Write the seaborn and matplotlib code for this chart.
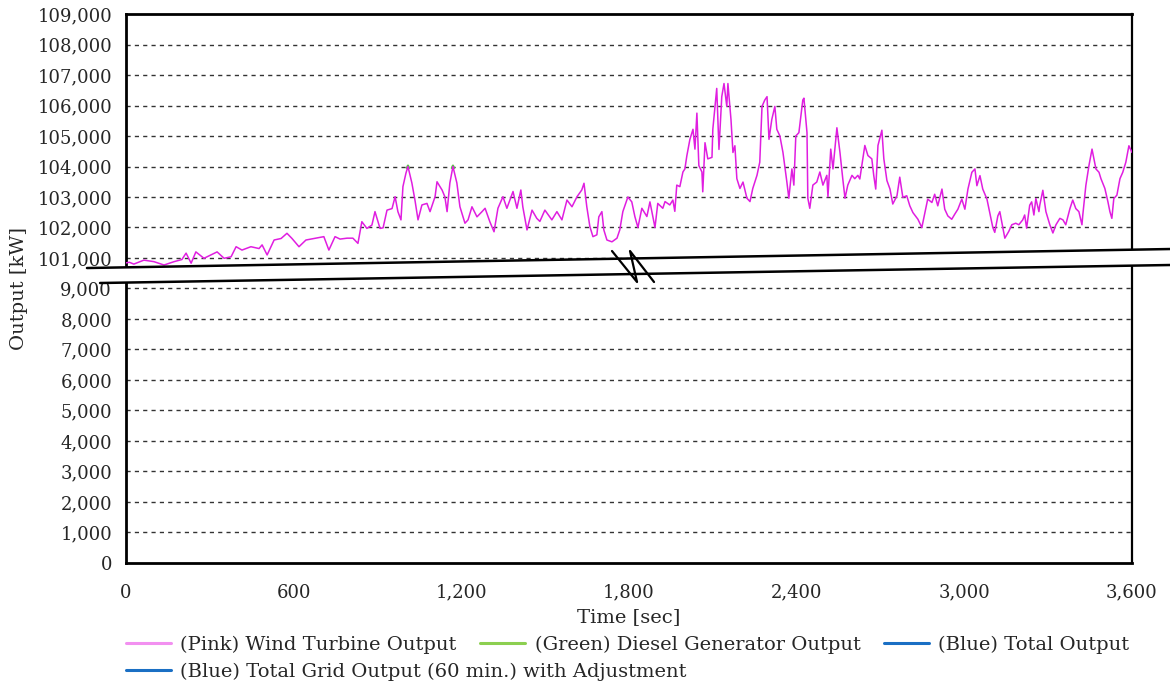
import numpy as np
import pandas as pd
import matplotlib
matplotlib.use("Agg")
import matplotlib.pyplot as plt
from matplotlib.lines import Line2D
from matplotlib.patches import Polygon
import seaborn as sns

# ---- data -------------------------------------------------------------
time_sec = [0, 12, 28, 64, 100, 136, 172, 200, 215, 233, 250, 279, 304, 326, 351, 376, 394, 415, 447, 476,
            487, 505, 530, 555, 576, 594, 619, 644, 673, 708, 726, 737, 748, 766, 791, 812, 830, 844, 862, 880,
            891, 909, 920, 934, 952, 963, 973, 984, 991, 1002, 1009, 1023, 1034, 1045, 1059, 1077, 1088, 1106,
            1113, 1131, 1141, 1149, 1159, 1170, 1184, 1195, 1213, 1224, 1238, 1256, 1274, 1285, 1302, 1317,
            1331, 1349, 1363, 1374, 1385, 1399, 1413, 1420, 1435, 1453, 1470, 1481, 1499, 1524, 1542, 1560,
            1578, 1596, 1614, 1631, 1639, 1649, 1660, 1671, 1685, 1692, 1703, 1710, 1721, 1739, 1757, 1767,
            1778, 1796, 1810, 1821, 1832, 1846, 1864, 1875, 1893, 1903, 1921, 1929, 1946, 1957, 1964, 1971,
            1982, 1993, 2000, 2007, 2018, 2029, 2036, 2043, 2050, 2061, 2064, 2072, 2082, 2097, 2100, 2114,
            2122, 2132, 2140, 2150, 2154, 2165, 2172, 2179, 2186, 2197, 2208, 2222, 2233, 2243, 2258, 2268,
            2276, 2286, 2294, 2301, 2311, 2322, 2329, 2340, 2351, 2365, 2372, 2383, 2390, 2397, 2408, 2422,
            2426, 2437, 2440, 2447, 2458, 2472, 2483, 2494, 2508, 2512, 2522, 2530, 2544, 2555, 2565, 2573,
            2583, 2598, 2608, 2619, 2626, 2637, 2644, 2655, 2669, 2676, 2683, 2691, 2705, 2712, 2723, 2734,
            2744, 2759, 2769, 2780, 2794, 2805, 2816, 2834, 2848, 2859, 2869, 2884, 2894, 2905, 2920, 2930,
            2941, 2955, 2966, 2977, 2991, 3002, 3013, 3027, 3038, 3045, 3056, 3066, 3081, 3091, 3102, 3109,
            3120, 3127, 3138, 3145, 3159, 3170, 3184, 3195, 3209, 3216, 3223, 3234, 3241, 3249, 3256, 3267,
            3270, 3281, 3292, 3306, 3317, 3328, 3342, 3353, 3363, 3378, 3388, 3399, 3410, 3421, 3424, 3435,
            3446, 3457, 3464, 3471, 3482, 3489, 3503, 3514, 3521, 3528, 3535, 3546, 3557, 3567, 3578, 3589,
            3600]

wind_kw = [100840, 100860, 100800, 100930, 100880, 100770, 100880, 100950, 101160, 100830, 101200, 100990,
           101100, 101200, 100990, 101040, 101370, 101260, 101370, 101310, 101430, 101100, 101590, 101640,
           101810, 101640, 101370, 101590, 101640, 101700, 101260, 101480, 101700, 101620, 101650, 101650,
           101480, 102190, 101970, 102080, 102520, 101970, 101990, 102570, 102620, 103010, 102520, 102250,
           103340, 103790, 104000, 103460, 102900, 102250, 102740, 102790, 102520, 103010, 103500, 103230,
           103010, 102520, 103460, 104000, 103460, 102680, 102140, 102250, 102680, 102350, 102520, 102630,
           102190, 101860, 102630, 103010, 102630, 102900, 103180, 102630, 103230, 102680, 101920, 102570,
           102300, 102200, 102570, 102250, 102520, 102250, 102900, 102680, 103010, 103230, 103450, 102680,
           102030, 101700, 101760, 102350, 102520, 101920, 101590, 101530, 101650, 101920, 102520, 103000,
           102840, 102360, 102000, 102630, 102360, 102840, 102000, 102790, 102630, 102850, 102740, 102900,
           102530, 103390, 103340, 103820, 103920, 104350, 104890, 105220, 104570, 105750, 104030, 103820,
           103170, 104780, 104250, 104300, 105220, 106560, 104560, 106290, 106720, 105970, 106720, 105540,
           104460, 104680, 103600, 103280, 103490, 102960, 102850, 103280, 103710, 104140, 105970, 106180,
           106290, 104890, 105540, 105970, 105220, 105000, 104460, 103490, 102960, 103920, 103390, 105000,
           105110, 106180, 106240, 105110, 102960, 102630, 103390, 103490, 103820, 103390, 103710, 103010,
           104570, 103920, 105270, 104460, 103600, 102960, 103390, 103710, 103600, 103710, 103590, 104250,
           104690, 104360, 104250, 103700, 103260, 104690, 105190, 104250, 103540, 103260, 102770, 103040,
           103650, 102990, 103040, 102710, 102490, 102270, 102000, 102490, 102930, 102820, 103090, 102710,
           103260, 102600, 102380, 102270, 102440, 102600, 102930, 102600, 103260, 103810, 103920, 103370,
           103700, 103260, 102930, 102490, 102000, 101840, 102380, 102520, 101980, 101650, 101870, 102090,
           102140, 102090, 102250, 102410, 101980, 102730, 102840, 102410, 102950, 102520, 102730, 103220,
           102520, 102090, 101820, 102090, 102300, 102250, 102090, 102620, 102900, 102620, 102520, 102090,
           102410, 103380, 104030, 104570, 104240, 103920, 103810, 103600, 103280, 102840, 102520, 102300,
           102950, 103060, 103600, 103810, 104140, 104680, 104460]

# diesel output only shows where it rises above the wind trace at two peaks
diesel_time = [1005, 1009, 1013, 1166, 1170, 1174]
diesel_kw = [103950, 104030, 103950, 103950, 104030, 103950]
diesel_seg = [0, 0, 0, 1, 1, 1]

y_tick_kw = [0, 1000, 2000, 3000, 4000, 5000, 6000, 7000, 8000, 9000,
             101000, 102000, 103000, 104000, 105000, 106000, 107000, 108000, 109000]
x_ticks = [0, 600, 1200, 1800, 2400, 3000, 3600]

legend_labels = ["(Pink) Wind Turbine Output", "(Green) Diesel Generator Output",
                 "(Blue) Total Output", "(Blue) Total Grid Output (60 min.) with Adjustment"]
legend_colors = ["#f290f0", "#8ccf50", "#1a6fc4", "#1a6fc4"]


def broken_axis(kw):
    """Map kW onto the broken scale: 0-9,000 below the break, 101,000-109,000 above."""
    kw = np.asarray(kw, dtype=float)
    return np.where(kw >= 100000, kw / 1000.0 - 91.0, kw / 1000.0)


# ---- figure -----------------------------------------------------------
sns.set_style("white")
plt.rcParams["font.family"] = ["DejaVu Serif"]
plt.rcParams["font.size"] = 13

fig = plt.figure(figsize=(11.70, 6.83), dpi=100)
ax = fig.add_axes([0.1077, 0.1757, 0.8598, 0.8038])

wind_df = pd.DataFrame({"t": time_sec, "y": broken_axis(wind_kw)})
diesel_df = pd.DataFrame({"t": diesel_time, "y": broken_axis(diesel_kw), "seg": diesel_seg})

sns.lineplot(data=diesel_df, x="t", y="y", units="seg", estimator=None, color="#5cc04a",
             lw=1.6, ax=ax, zorder=3)
sns.lineplot(data=wind_df, x="t", y="y", color="#e01ee0", lw=1.1, ax=ax, zorder=4)

ax.set_xlim(0, 3600)
ax.set_ylim(0, 18)
ax.set_xticks(x_ticks)
ax.set_xticklabels([f"{v:,}" for v in x_ticks])
y_pos = broken_axis(y_tick_kw)
ax.set_yticks(y_pos)
ax.set_yticklabels([f"{v:,}" for v in y_tick_kw])

for yp in y_pos[1:-1]:
    ax.axhline(yp, color="#333333", lw=1.0, ls=(0, (3, 3)), zorder=1)

ax.tick_params(axis="x", direction="in", length=5, width=1, pad=15, labelsize=13)
ax.tick_params(axis="y", direction="in", length=0, pad=10, labelsize=13)
for s in ax.spines.values():
    s.set_color("black")
    s.set_linewidth(2)
ax.spines["right"].set_linewidth(1.6)

ax.set_xlabel("Time [sec]", fontsize=14)
ax.set_ylabel("Output [kW]", fontsize=14)
ax.xaxis.set_label_coords(0.5, -0.082)
ax.yaxis.set_label_coords(-0.0974, 0.5)

# ---- axis break -------------------------------------------------------
band = Polygon([(-0.0388, 0.5373), (1.0378, 0.5719), (1.0378, 0.5428), (-0.0258, 0.5100)],
               closed=True, transform=ax.transAxes, facecolor="white", edgecolor="none",
               clip_on=False, zorder=20)
ax.add_patch(band)
ax.add_line(Line2D([-0.0388, 1.0378], [0.5373, 0.5719], transform=ax.transAxes,
                   color="black", lw=1.8, clip_on=False, zorder=21))
ax.add_line(Line2D([-0.0258, 1.0378], [0.5100, 0.5428], transform=ax.transAxes,
                   color="black", lw=1.8, clip_on=False, zorder=21))
ax.add_line(Line2D([0.4831, 0.5080, 0.5010, 0.5249], [0.5683, 0.5118, 0.5683, 0.5118],
                   transform=ax.transAxes, color="black", lw=1.6, clip_on=False, zorder=22))

# ---- legend -----------------------------------------------------------
handles = [Line2D([], [], color=c, lw=2.2) for c in legend_colors]
fig.legend(handles[:3], legend_labels[:3], loc="center left", ncol=3,
           bbox_to_anchor=(0.1077, 0.0556), frameon=False, borderpad=0, borderaxespad=0,
           handlelength=2.3, handletextpad=0.5, columnspacing=1.2, fontsize=14)
fig.legend(handles[3:], legend_labels[3:], loc="center left",
           bbox_to_anchor=(0.1077, 0.0161), frameon=False, borderpad=0, borderaxespad=0,
           handlelength=2.3, handletextpad=0.5, fontsize=14)

fig.savefig("out.png", dpi=100, facecolor="white")
